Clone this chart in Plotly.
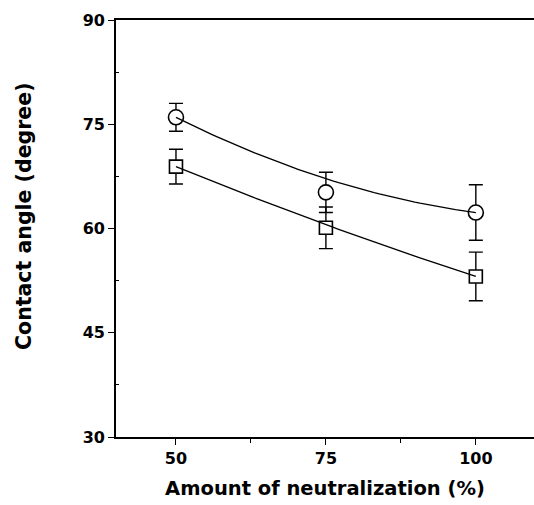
import numpy as np
import plotly.graph_objects as go

# Data
neutralization = [50, 75, 100]
circle_angle = [76.0, 65.2, 62.3]
circle_err = [2.0, 2.9, 4.0]
square_angle = [68.9, 60.1, 53.1]
square_err = [2.5, 3.0, 3.5]

x_ticks = [50, 75, 100]
y_ticks = [30, 45, 60, 75, 90]


def bspline(xs, ys, n=60):
    """Quadratic Bezier (Origin-style B-spline) using data points as control points."""
    t = np.linspace(0, 1, n)
    xs = np.asarray(xs, float)
    ys = np.asarray(ys, float)
    bx = (1 - t) ** 2 * xs[0] + 2 * t * (1 - t) * xs[1] + t ** 2 * xs[2]
    by = (1 - t) ** 2 * ys[0] + 2 * t * (1 - t) * ys[1] + t ** 2 * ys[2]
    return bx, by


fig = go.Figure()

for ys, err, sym, size in [
    (circle_angle, circle_err, "circle", 15),
    (square_angle, square_err, "square", 13),
]:
    fig.add_trace(go.Scatter(
        x=neutralization, y=ys, mode="markers",
        marker=dict(symbol=sym, size=size, color="white",
                    line=dict(color="black", width=1.6)),
        error_y=dict(type="data", array=err, visible=True,
                     color="black", thickness=1.4, width=7),
        showlegend=False, hoverinfo="skip",
    ))

for ys in [circle_angle, square_angle]:
    bx, by = bspline(neutralization, ys)
    fig.add_trace(go.Scatter(
        x=bx, y=by, mode="lines",
        line=dict(color="black", width=1.3),
        showlegend=False, hoverinfo="skip",
    ))

font_family = "DejaVu Sans, sans-serif"

fig.update_layout(
    width=534, height=505,
    margin=dict(l=116, r=0, t=20, b=68),
    paper_bgcolor="white", plot_bgcolor="white",
    font=dict(family=font_family, color="black"),
    xaxis=dict(
        range=[40, 109.7],
        tickvals=x_ticks, ticktext=[str(v) for v in x_ticks],
        ticks="outside", ticklen=6, tickwidth=1.3, tickcolor="black",
        minor=dict(tickvals=[62.5, 87.5], ticks="outside", ticklen=4,
                   tickwidth=1.2, tickcolor="black", showgrid=False),
        showline=True, linecolor="black", linewidth=1.5, mirror=True,
        showgrid=False, zeroline=False, automargin=False,
        tickfont=dict(size=16, family=font_family, weight="bold"),
        title=dict(text="<b>Amount of neutralization (%)</b>",
                   font=dict(size=19.5, family=font_family), standoff=14),
    ),
    yaxis=dict(
        range=[30, 90],
        tickvals=y_ticks, ticktext=[str(v) for v in y_ticks],
        ticks="outside", ticklen=6, tickwidth=1.3, tickcolor="black",
        minor=dict(tickvals=[37.5, 52.5, 67.5, 82.5], ticks="inside",
                   ticklen=3, tickwidth=1.0, tickcolor="black", showgrid=False),
        showline=True, linecolor="black", linewidth=1.8,
        showgrid=False, zeroline=False, automargin=False,
        tickfont=dict(size=16, family=font_family, weight="bold"),
    ),
    annotations=[dict(
        text="<b>Contact angle (degree)</b>", textangle=-90,
        xref="paper", yref="paper", x=0, y=0.53,
        xanchor="center", yanchor="middle", xshift=-92,
        showarrow=False, font=dict(size=20.5, family=font_family, color="black"),
    )],
)

fig.write_html("out.html")
